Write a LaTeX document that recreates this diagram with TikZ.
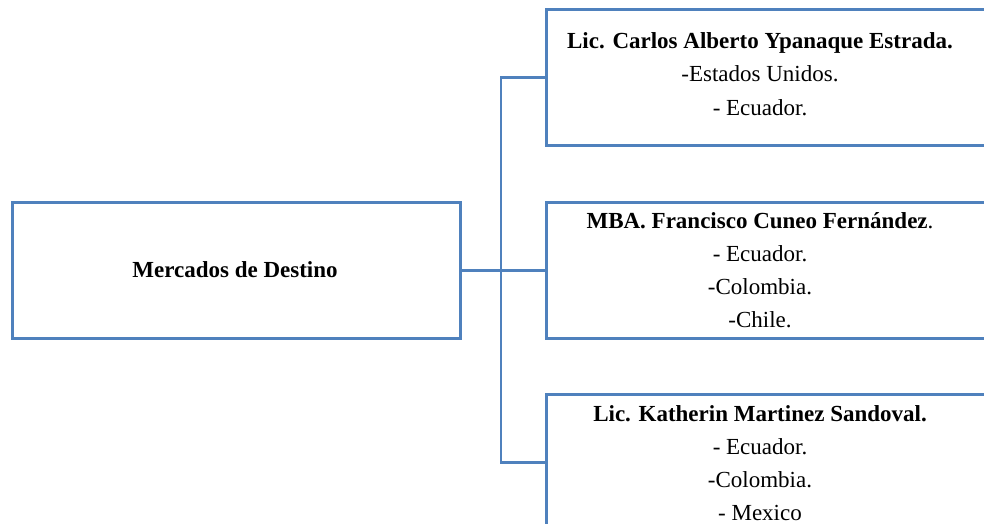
\documentclass[tikz,border=0pt]{standalone}
\usepackage{fontspec}
\setmainfont{Liberation Serif}
\begin{document}
\begin{tikzpicture}[x=1pt,y=-1pt,
  boxstyle/.style={draw=linkblue, line width=2.6pt, fill=white, rectangle, inner sep=0pt, anchor=north west},
  label/.style={align=center, inner sep=0pt, font=\fontsize{23}{33.2}\selectfont},
  link/.style={draw=linkblue, line width=2.6pt}]
\definecolor{linkblue}{RGB}{79,129,189}
\useasboundingbox (0,0) rectangle (984,524);
% root box
\node[boxstyle, minimum width=448pt, minimum height=136pt] (root) at (11,201) {};
\node[label, font=\fontsize{23}{33.2}\selectfont\bfseries] (roottxt) at (235,270) {Mercados de Destino};
% destination boxes (they run past the right edge)
\node[boxstyle, minimum width=470pt, minimum height=136pt] (b1) at (545,8) {};
\node[boxstyle, minimum width=470pt, minimum height=136pt] (b2) at (545,201) {};
\node[boxstyle, minimum width=470pt, minimum height=136pt] (b3) at (545,393) {};
\node[label] (t1) at (760,74) {\textbf{Lic. Carlos Alberto Ypanaque Estrada.}\\-Estados Unidos.\\- Ecuador.};
\node[label] (t2) at (760,270) {\textbf{MBA. Francisco Cuneo Fernández}.\\- Ecuador.\\-Colombia.\\-Chile.};
\node[label] (t3) at (760,463) {\textbf{Lic. Katherin Martinez Sandoval.}\\- Ecuador.\\-Colombia.\\- Mexico};
% connectors
\coordinate (fork) at (501,269);
\draw[link] (root.east) -- (b2.west);
\draw[link] (b1.west) -| (fork) |- (b3.west);
\end{tikzpicture}
\end{document}
